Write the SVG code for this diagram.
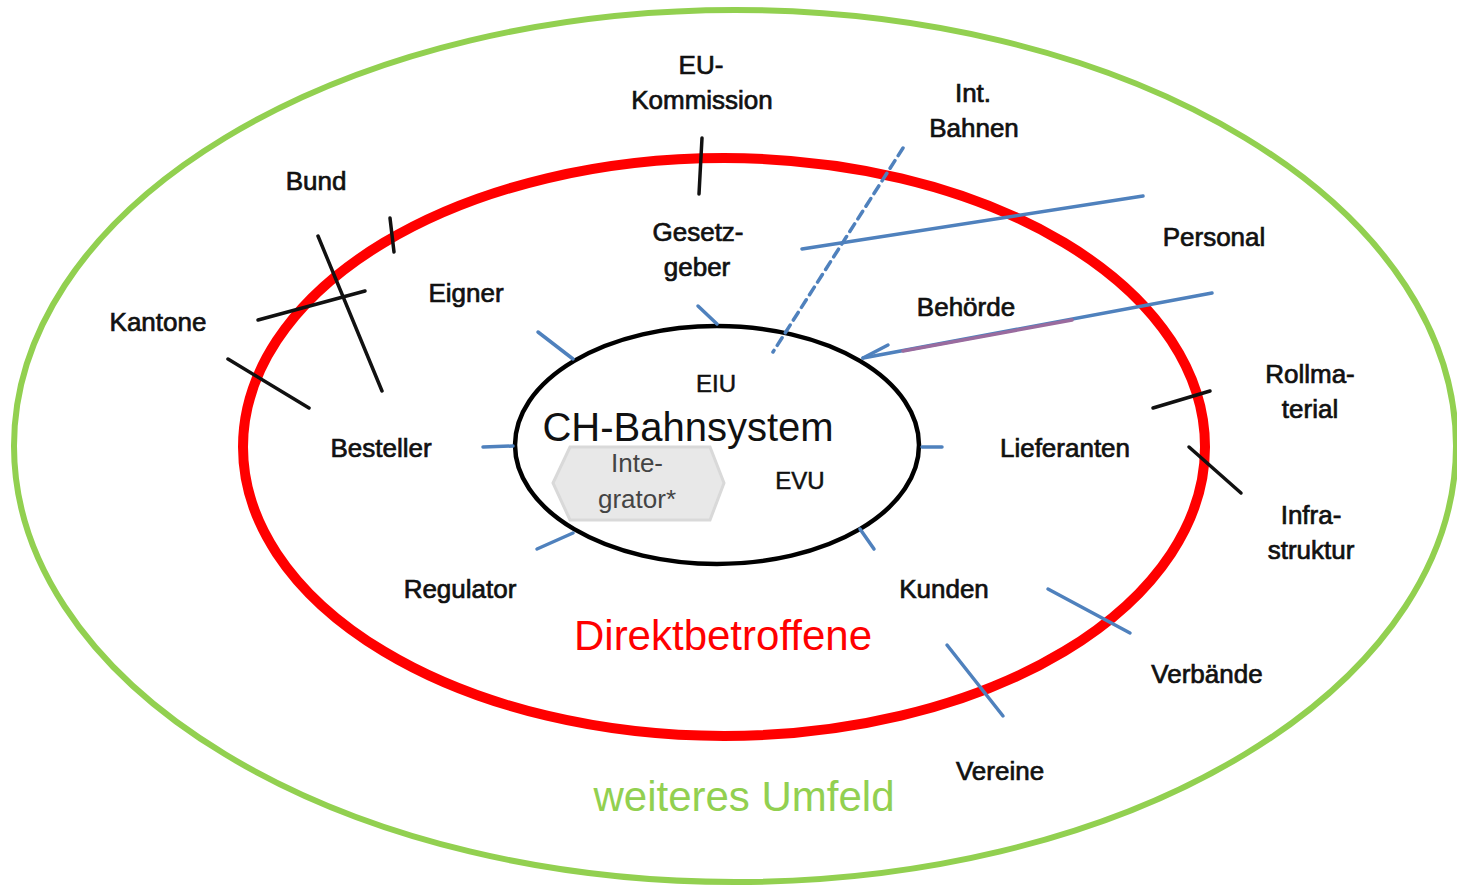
<svg xmlns="http://www.w3.org/2000/svg" width="1457" height="887" viewBox="0 0 1457 887">
  <style>
    .lbl { font-family: "Liberation Sans", Arial, sans-serif; font-size: 26px; fill: #111; stroke: #111; stroke-width: 0.7px; text-anchor: middle; }
    .core { font-family: "Liberation Sans", Arial, sans-serif; font-size: 24px; fill: #111; stroke: #111; stroke-width: 0.5px; text-anchor: middle; }
    .blue { stroke: #4f81bd; stroke-width: 3.5; stroke-linecap: round; fill: none; }
    .blk { stroke: #111; stroke-width: 3.5; stroke-linecap: round; fill: none; }
  </style>
  <rect width="1457" height="887" fill="#ffffff"/>

  <!-- rings -->
  <g id="ring-umfeld">
    <ellipse cx="735" cy="446" rx="721" ry="436" fill="none" stroke="#92d050" stroke-width="6"/>
    <text x="744" y="811" font-family="Liberation Sans, Arial, sans-serif" font-size="42" fill="#92d050" text-anchor="middle">weiteres Umfeld</text>
  </g>
  <g id="ring-direkt">
    <ellipse cx="724" cy="447" rx="481" ry="289" fill="none" stroke="#ff0000" stroke-width="10"/>
    <text x="723" y="650" font-family="Liberation Sans, Arial, sans-serif" font-size="42" fill="#ff0000" text-anchor="middle">Direktbetroffene</text>
  </g>
  <g id="core">
    <ellipse cx="717" cy="445" rx="202" ry="119" fill="#ffffff" stroke="#000" stroke-width="4.5"/>
    <text class="core" x="716" y="392">EIU</text>
    <text x="688" y="441" font-family="Liberation Sans, Arial, sans-serif" font-size="40" fill="#111" text-anchor="middle">CH-Bahnsystem</text>
    <text class="core" x="800" y="489">EVU</text>
  </g>
  <g id="integrator">
    <polygon points="553,483 570,447 710,447 724,483 710,520 570,520" fill="#e8e8e8" stroke="#d9d9d9" stroke-width="3"/>
    <g font-family="Liberation Sans, Arial, sans-serif" font-size="26" fill="#444" text-anchor="middle">
      <text x="637" y="472">Inte-</text>
      <text x="637" y="508">grator*</text>
    </g>
  </g>

  <!-- connectors -->
  <g id="connectors">
    <!-- black ticks -->
    <line class="blk" x1="702" y1="138" x2="699" y2="194"/>
    <line class="blk" x1="390" y1="218" x2="394" y2="252"/>
    <line class="blk" x1="318" y1="236" x2="382" y2="391"/>
    <line class="blk" x1="258" y1="320" x2="365" y2="291"/>
    <line class="blk" x1="228" y1="359" x2="309" y2="408"/>
    <line class="blk" x1="1153" y1="408" x2="1210" y2="391"/>
    <line class="blk" x1="1189" y1="447" x2="1241" y2="493"/>
    <!-- blue lines -->
    <line class="blue" x1="903" y1="148" x2="773" y2="352" stroke-dasharray="9,6"/>
    <line class="blue" x1="802" y1="249" x2="1143" y2="196"/>
    <line class="blue" x1="1212" y1="293" x2="863" y2="358"/>
    <line x1="903" y1="351" x2="1072" y2="320" stroke="#9a6b9e" stroke-width="3.5" stroke-linecap="round"/>
    <line class="blue" x1="863" y1="358" x2="888" y2="345"/>
    <line class="blue" x1="698" y1="306" x2="717" y2="324"/>
    <line class="blue" x1="538" y1="332" x2="573" y2="359"/>
    <line class="blue" x1="483" y1="447" x2="513" y2="446"/>
    <line class="blue" x1="922" y1="447" x2="942" y2="447"/>
    <line class="blue" x1="537" y1="549" x2="573" y2="533"/>
    <line class="blue" x1="860" y1="529" x2="874" y2="549"/>
    <line class="blue" x1="1048" y1="589" x2="1130" y2="633"/>
    <line class="blue" x1="947" y1="645" x2="1003" y2="716"/>
  </g>

  <!-- stakeholders -->
  <g id="eu-kommission"><text class="lbl" x="701" y="74">EU-</text><text class="lbl" x="702" y="109">Kommission</text></g>
  <g id="int-bahnen"><text class="lbl" x="973" y="102">Int.</text><text class="lbl" x="974" y="137">Bahnen</text></g>
  <g id="bund"><text class="lbl" x="316" y="190">Bund</text></g>
  <g id="personal"><text class="lbl" x="1214" y="246">Personal</text></g>
  <g id="gesetzgeber"><text class="lbl" x="698" y="241">Gesetz-</text><text class="lbl" x="697" y="276">geber</text></g>
  <g id="eigner"><text class="lbl" x="466" y="302">Eigner</text></g>
  <g id="kantone"><text class="lbl" x="158" y="331">Kantone</text></g>
  <g id="behoerde"><text class="lbl" x="966" y="316">Behörde</text></g>
  <g id="rollmaterial"><text class="lbl" x="1310" y="383">Rollma-</text><text class="lbl" x="1310" y="418">terial</text></g>
  <g id="besteller"><text class="lbl" x="381" y="457">Besteller</text></g>
  <g id="lieferanten"><text class="lbl" x="1065" y="457">Lieferanten</text></g>
  <g id="infrastruktur"><text class="lbl" x="1311" y="524">Infra-</text><text class="lbl" x="1311" y="559">struktur</text></g>
  <g id="regulator"><text class="lbl" x="460" y="598">Regulator</text></g>
  <g id="kunden"><text class="lbl" x="944" y="598">Kunden</text></g>
  <g id="verbaende"><text class="lbl" x="1207" y="683">Verbände</text></g>
  <g id="vereine"><text class="lbl" x="1000" y="780">Vereine</text></g>
</svg>
